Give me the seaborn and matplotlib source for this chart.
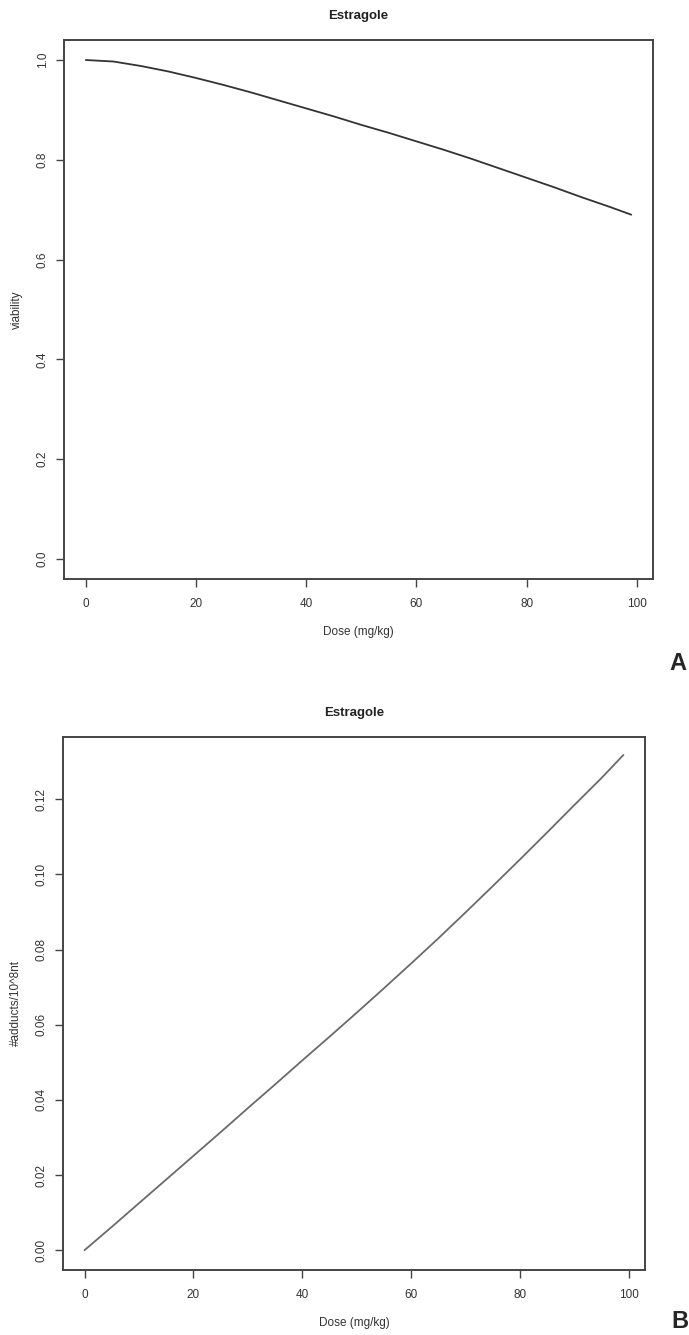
import matplotlib
matplotlib.use("Agg")
import matplotlib.pyplot as plt
import pandas as pd
import seaborn as sns

# dose grid (mg/kg) and curves
dose = [0, 5, 10, 15, 20, 25, 30, 35, 40, 45, 50, 55, 60, 65, 70, 75, 80, 85, 90, 95, 99]
viability = [1.000, 0.997, 0.988, 0.977, 0.964, 0.950, 0.935, 0.919, 0.903, 0.887,
             0.870, 0.854, 0.837, 0.820, 0.802, 0.783, 0.764, 0.745, 0.725, 0.706, 0.690]
adducts = [0.0000, 0.0062, 0.0125, 0.0188, 0.0251, 0.0314, 0.0378, 0.0441, 0.0505, 0.0568,
           0.0632, 0.0697, 0.0763, 0.0830, 0.0899, 0.0969, 0.1040, 0.1112, 0.1185, 0.1257, 0.1318]

x_ticks = [0, 20, 40, 60, 80, 100]
via_ticks = [0.0, 0.2, 0.4, 0.6, 0.8, 1.0]
add_ticks = [0.00, 0.02, 0.04, 0.06, 0.08, 0.10, 0.12]

df = pd.DataFrame({"dose": dose, "viability": viability, "adducts": adducts})

sns.set_style("white")
plt.rcParams['font.family'] = ['Liberation Sans', 'DejaVu Sans']

fig = plt.figure(figsize=(6.89, 13.35), dpi=100)
ax1 = fig.add_axes([0.0929, 0.5663, 0.855, 0.4037])
ax2 = fig.add_axes([0.0914, 0.0487, 0.8447, 0.3993])

txt = '#333333'


def style_axis(ax, yticks, yfmt, ylabel, ylim):
    ax.set_xlim(-3.96, 102.96)
    ax.set_ylim(*ylim)
    ax.set_xticks(x_ticks)
    ax.set_xticklabels([str(t) for t in x_ticks])
    ax.set_yticks(yticks)
    ax.set_yticklabels([yfmt.format(t) for t in yticks], rotation=90, va='center')
    for s in ax.spines.values():
        s.set_color('#444444')
        s.set_linewidth(1.4)
    ax.tick_params(axis='both', direction='out', length=6, width=1.0,
                   color='#444444', labelsize=8.5, labelcolor=txt,
                   left=True, bottom=True)
    ax.tick_params(axis='x', pad=8)
    ax.tick_params(axis='y', pad=5)
    ax.set_xlabel('Dose (mg/kg)', fontsize=8.5, color=txt, labelpad=11)
    ax.set_ylabel(ylabel, fontsize=8.5, color=txt, labelpad=10)
    ax.set_title('Estragole', fontsize=9.5, fontweight='bold', color='#222222', pad=15)


sns.lineplot(data=df, x='dose', y='viability', ax=ax1, color='#333333', linewidth=1.3)
style_axis(ax1, via_ticks, '{:.1f}', 'viability', (-0.04, 1.04))

sns.lineplot(data=df, x='dose', y='adducts', ax=ax2, color='#6a6a6a', linewidth=1.3)
style_axis(ax2, add_ticks, '{:.2f}', '#adducts/10^8nt', (-0.00527, 0.1366))

fig.text(0.984, 1 - 664 / 1335, 'A', fontsize=17, fontweight='bold', ha='center', va='center')
fig.text(0.987, 1 - 1322 / 1335, 'B', fontsize=17, fontweight='bold', ha='center', va='center')

fig.savefig('out.png', dpi=100)
